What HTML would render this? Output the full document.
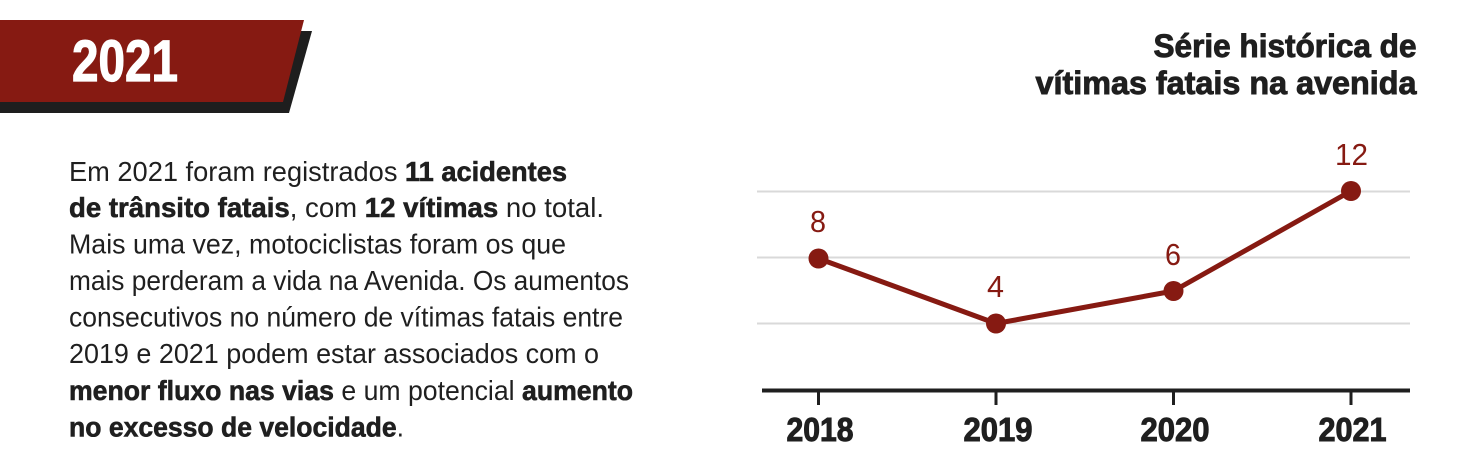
<!DOCTYPE html>
<html><head><meta charset="utf-8"><style>
html,body{margin:0;padding:0;background:#fff;}
svg{display:block;}
</style></head><body>
<svg width="1466" height="476" viewBox="0 0 1466 476" xmlns="http://www.w3.org/2000/svg" font-family="'Liberation Sans', Arial, sans-serif">
  <!-- banner -->
  <polygon points="0,31 312,31 289,113 0,113" fill="#1e1e1e"/>
  <polygon points="0,20 304,20 283,102 0,102" fill="#861a12"/>
  <text x="72" y="81" font-size="58" font-weight="bold" fill="#ffffff" stroke="#ffffff" stroke-width="1.2" textLength="106" lengthAdjust="spacingAndGlyphs">2021</text>

  <!-- title -->
  <g font-size="32" font-weight="bold" fill="#1f1f1f" stroke="#1f1f1f" stroke-width="0.9">
    <text x="1153.5" y="57" textLength="263" lengthAdjust="spacingAndGlyphs">Série histórica de</text>
    <text x="1035.5" y="94" textLength="381" lengthAdjust="spacingAndGlyphs">vítimas fatais na avenida</text>
  </g>

  <!-- body text -->
  <g font-size="28" fill="#1f1f1f">
    <text x="69" y="181" textLength="498" lengthAdjust="spacingAndGlyphs">Em 2021 foram registrados <tspan font-weight="bold" stroke="#1f1f1f" stroke-width="0.6">11 acidentes</tspan></text>
    <text x="69" y="217" textLength="535" lengthAdjust="spacingAndGlyphs"><tspan font-weight="bold" stroke="#1f1f1f" stroke-width="0.6">de trânsito fatais</tspan>, com <tspan font-weight="bold" stroke="#1f1f1f" stroke-width="0.6">12 vítimas</tspan> no total.</text>
    <text x="69" y="253.5" textLength="497" lengthAdjust="spacingAndGlyphs">Mais uma vez, motociclistas foram os que</text>
    <text x="69" y="290" textLength="560" lengthAdjust="spacingAndGlyphs">mais perderam a vida na Avenida. Os aumentos</text>
    <text x="69" y="326.5" textLength="554" lengthAdjust="spacingAndGlyphs">consecutivos no número de vítimas fatais entre</text>
    <text x="69" y="363" textLength="530" lengthAdjust="spacingAndGlyphs">2019 e 2021 podem estar associados com o</text>
    <text x="69" y="400" textLength="564" lengthAdjust="spacingAndGlyphs"><tspan font-weight="bold" stroke="#1f1f1f" stroke-width="0.6">menor fluxo nas vias</tspan> e um potencial <tspan font-weight="bold" stroke="#1f1f1f" stroke-width="0.6">aumento</tspan></text>
    <text x="69" y="436.5" textLength="335" lengthAdjust="spacingAndGlyphs"><tspan font-weight="bold" stroke="#1f1f1f" stroke-width="0.6">no excesso de velocidade</tspan>.</text>
  </g>

  <!-- gridlines -->
  <g stroke="#d9d9d9" stroke-width="2">
    <line x1="757" y1="191.5" x2="1410" y2="191.5"/>
    <line x1="757" y1="257.5" x2="1410" y2="257.5"/>
    <line x1="757" y1="323.5" x2="1410" y2="323.5"/>
  </g>

  <!-- axis -->
  <line x1="762" y1="390.5" x2="1410" y2="390.5" stroke="#1f1f1f" stroke-width="4"/>
  <g stroke="#1f1f1f" stroke-width="3">
    <line x1="818.5" y1="390" x2="818.5" y2="405"/>
    <line x1="996" y1="390" x2="996" y2="405"/>
    <line x1="1173.5" y1="390" x2="1173.5" y2="405"/>
    <line x1="1351" y1="390" x2="1351" y2="405"/>
  </g>
  <g font-size="33" font-weight="bold" fill="#1f1f1f" stroke="#1f1f1f" stroke-width="1">
    <text x="786.5" y="441" textLength="67" lengthAdjust="spacingAndGlyphs">2018</text>
    <text x="963.5" y="441" textLength="69" lengthAdjust="spacingAndGlyphs">2019</text>
    <text x="1140.5" y="441" textLength="69" lengthAdjust="spacingAndGlyphs">2020</text>
    <text x="1318.5" y="441" textLength="68" lengthAdjust="spacingAndGlyphs">2021</text>
  </g>

  <!-- series -->
  <polyline points="818.5,258.5 996,323.5 1173.5,291 1351,191" fill="none" stroke="#861a12" stroke-width="5" stroke-linejoin="round"/>
  <g fill="#861a12">
    <circle cx="818.5" cy="258.5" r="10"/>
    <circle cx="996" cy="323.5" r="10"/>
    <circle cx="1173.5" cy="291" r="10"/>
    <circle cx="1351" cy="191" r="10"/>
  </g>
  <g font-size="31" fill="#861a12">
    <text x="810" y="232" textLength="16" lengthAdjust="spacingAndGlyphs">8</text>
    <text x="987" y="297" textLength="17" lengthAdjust="spacingAndGlyphs">4</text>
    <text x="1165" y="265" textLength="16" lengthAdjust="spacingAndGlyphs">6</text>
    <text x="1335" y="165" textLength="33" lengthAdjust="spacingAndGlyphs">12</text>
  </g>
</svg>
</body></html>
